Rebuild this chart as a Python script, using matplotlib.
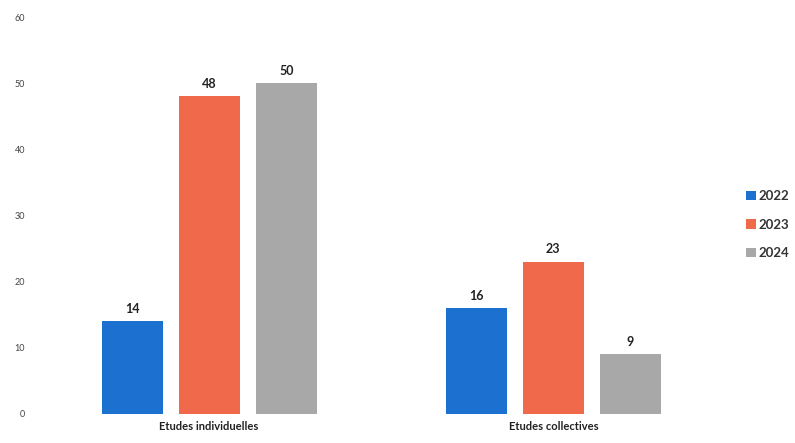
import numpy as np
import matplotlib
matplotlib.use("Agg")
import matplotlib.pyplot as plt
from matplotlib.patches import Patch

categories = ["Etudes individuelles", "Etudes collectives"]
years = ["2022", "2023", "2024"]
values_2022 = [14, 16]
values_2023 = [48, 23]
values_2024 = [50, 9]
y_ticks = [0, 10, 20, 30, 40, 50, 60]

colors = ["#1b70d0", "#f1694b", "#a8a8a8"]
series = [values_2022, values_2023, values_2024]

plt.rcParams["font.family"] = ["Lato", "DejaVu Sans"]

fig = plt.figure(figsize=(7.95, 4.43), dpi=100)
ax = fig.add_axes([0.044, 0.0655, 0.862, 0.896])

x = np.arange(len(categories))
step = 0.224
width = 0.177
for i, (vals, col) in enumerate(zip(series, colors)):
    pos = x + (i - 1) * step
    bars = ax.bar(pos, vals, width=width, color=col, label=years[i])
    for b, v in zip(bars, vals):
        ax.text(b.get_x() + b.get_width() / 2, v + 1.0, str(v),
                ha="center", va="bottom", fontsize=9, fontweight="bold",
                color="#222222")

ax.set_xlim(-0.506, 1.485)
ax.set_ylim(0, 60)
ax.set_yticks(y_ticks)
ax.set_yticklabels([str(t) for t in y_ticks], fontsize=6.5, color="#444444")
ax.set_xticks(x)
ax.set_xticklabels(categories, fontsize=8, fontweight="bold", color="#222222")
ax.tick_params(axis="both", length=0)
ax.tick_params(axis="y", pad=7)
ax.tick_params(axis="x", pad=5)
for s in ax.spines.values():
    s.set_visible(False)

handles = [Patch(facecolor=c, edgecolor="none") for c in colors]
leg = fig.legend(handles, years, loc="center left",
                 bbox_to_anchor=(0.927, 0.493), frameon=False,
                 handlelength=0.75, handleheight=0.75, handletextpad=0.2,
                 labelspacing=1.25, borderpad=0.2,
                 prop={"size": 9.5, "weight": "bold"})
for t in leg.get_texts():
    t.set_color("#333333")

fig.savefig("out.png", dpi=100)
